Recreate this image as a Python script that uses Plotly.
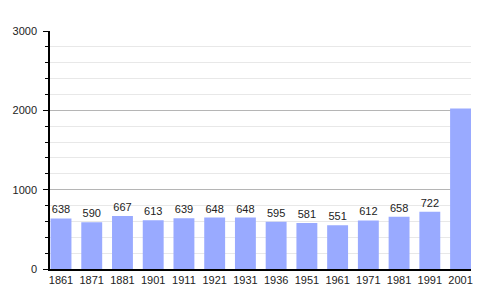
import plotly.graph_objects as go

years = ["1861", "1871", "1881", "1901", "1911", "1921", "1931", "1936",
         "1951", "1961", "1971", "1981", "1991", "2001"]
population = [638, 590, 667, 613, 639, 648, 648, 595, 581, 551, 612, 658, 722, 2022]
labels = [str(v) for v in population[:-1]] + [""]
y_ticks = [0, 1000, 2000, 3000]

fig = go.Figure()
fig.add_trace(go.Bar(
    x=years, y=population, text=labels, textposition="outside",
    textfont=dict(size=11, color="#222222", family="Liberation Sans, Arial"),
    marker=dict(color="#99aaff", line=dict(width=0)),
    width=0.68, cliponaxis=False, hoverinfo="skip",
))
fig.update_layout(
    width=500, height=300,
    margin=dict(l=50, r=29, t=31, b=31),
    paper_bgcolor="white", plot_bgcolor="white",
    showlegend=False,
    font=dict(family="Liberation Sans, Arial", size=11, color="#222222"),
    xaxis=dict(type="category", range=[-0.358, 13.34], showgrid=False,
               showline=True, linecolor="black", linewidth=1.5, ticks="",
               tickfont=dict(size=11, color="#222222"), fixedrange=True),
    yaxis=dict(range=[0, 3000], tickvals=y_ticks, showline=True, linecolor="black",
               linewidth=1.5, ticks="outside", ticklen=5, tickcolor="black",
               gridcolor="#b5b5b5", gridwidth=1, zeroline=False,
               ticklabelstandoff=4,
               minor=dict(dtick=200, ticks="outside", ticklen=3, tickcolor="black",
                          showgrid=True, gridcolor="#e8e8e8", gridwidth=1),
               tickfont=dict(size=11, color="#222222"), fixedrange=True),
)
fig.write_html("out.html")
